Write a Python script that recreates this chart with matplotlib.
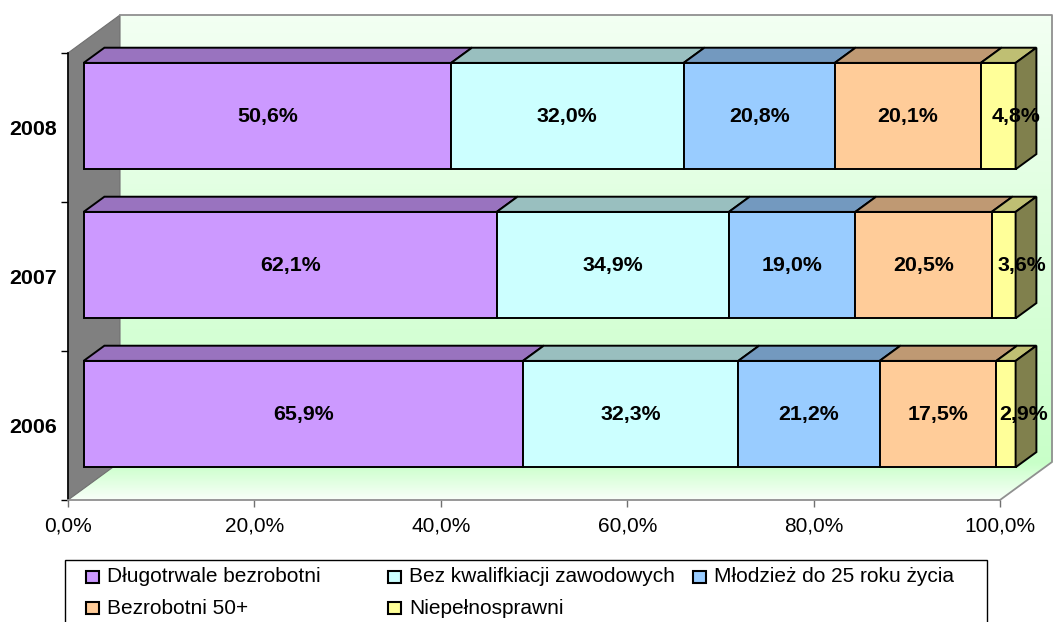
import matplotlib
matplotlib.use('Agg')
import matplotlib.pyplot as plt
import numpy as np
from matplotlib.patches import Polygon, Rectangle
from matplotlib.transforms import IdentityTransform, ScaledTranslation

plt.rcParams['font.family'] = ['Liberation Sans', 'DejaVu Sans']

# ---------------- data ----------------
years = ['2006', '2007', '2008']
series_names = ['Długotrwale bezrobotni', 'Bez kwalifkiacji zawodowych',
                'Młodzież do 25 roku życia', 'Bezrobotni 50+', 'Niepełnosprawni']
dlugotrwale = [65.9, 62.1, 50.6]
bez_kwalifikacji = [32.3, 34.9, 32.0]
mlodziez = [21.2, 19.0, 20.8]
bezrobotni_50 = [17.5, 20.5, 20.1]
niepelnosprawni = [2.9, 3.6, 4.8]
colors = ['#CC99FF', '#CCFFFF', '#99CCFF', '#FFCC99', '#FFFF99']
xticks = [0.0, 0.2, 0.4, 0.6, 0.8, 1.0]
xtick_labels = ['0,0%', '20,0%', '40,0%', '60,0%', '80,0%', '100,0%']

# ---------------- layout ----------------
W, H = 1053, 622
fig = plt.figure(figsize=(W / 100, H / 100), dpi=100)
ax = fig.add_axes([68 / W, (H - 500) / H, 932 / W, 447 / H])
ax.set_xlim(0, 1)
ax.set_ylim(-0.5, 2.5)
ax.patch.set_visible(False)

D = np.array([52.0, 38.0])   # depth vector in pixels
s_front, s_back = 0.3, 0.7
FS = 15.0
FSB = 15.4
ID = IdentityTransform()


def shade(c, f):
    rgb = np.array(matplotlib.colors.to_rgb(c))
    return tuple(rgb * f)


def axp(x, y, s=0.0):
    return ax.transAxes.transform((x, y)) + s * D


def dp(x, y, s=0.0):
    return ax.transData.transform((x, y)) + s * D


# back wall gradient
N = 80
c_top = np.array([242, 255, 242]) / 255
c_bot = np.array([200, 255, 200]) / 255
for k in range(N):
    y0, y1 = k / N, (k + 1) / N
    c = c_bot + (c_top - c_bot) * (k + 0.5) / N
    pts = [axp(0, y0, 1), axp(1, y0, 1), axp(1, y1, 1), axp(0, y1, 1)]
    ax.add_patch(Polygon(pts, closed=True, transform=ID, facecolor=c,
                         edgecolor=c, lw=0.5, clip_on=False, zorder=0.5))
# floor gradient
c_front = np.array([250, 255, 250]) / 255
c_back = np.array([200, 255, 200]) / 255
for k in range(N):
    s0, s1 = k / N, (k + 1) / N
    c = c_front + (c_back - c_front) * (k + 0.5) / N
    pts = [axp(0, 0, s0), axp(1, 0, s0), axp(1, 0, s1), axp(0, 0, s1)]
    ax.add_patch(Polygon(pts, closed=True, transform=ID, facecolor=c,
                         edgecolor=c, lw=0.5, clip_on=False, zorder=0.5))
# left wall
ax.add_patch(Polygon([axp(0, 0, 0), axp(0, 1, 0), axp(0, 1, 1), axp(0, 0, 1)],
                     closed=True, transform=ID, facecolor='#808080',
                     edgecolor='#707070', lw=0.8, clip_on=False, zorder=0.6))
# outlines
edge_pts = [axp(0, 1, 1), axp(1, 1, 1), axp(1, 0, 1), axp(1, 0, 0)]
ex = [p[0] for p in edge_pts]
ey = [p[1] for p in edge_pts]
ax.plot(ex, ey, transform=ID, color='#909090', lw=1.3, clip_on=False, zorder=0.7)

# ---------------- bars ----------------
data = np.array([dlugotrwale, bez_kwalifikacji, mlodziez, bezrobotni_50, niepelnosprawni])
totals = data.sum(axis=0)
frac = data / totals
h = 0.714
front_tr = ax.transData + ScaledTranslation(s_front * D[0] / 100, s_front * D[1] / 100,
                                            fig.dpi_scale_trans)
ypos = np.arange(len(years))
lefts = np.zeros(len(years))
for j in range(len(series_names)):
    ax.barh(ypos, frac[j], left=lefts, height=h, color=colors[j], edgecolor='black',
            lw=1.4, transform=front_tr, clip_on=False, zorder=2)
    for i in range(len(years)):
        x0, x1 = lefts[i], lefts[i] + frac[j, i]
        y0, y1 = i - h / 2, i + h / 2
        top = [dp(x0, y1, s_front), dp(x1, y1, s_front), dp(x1, y1, s_back), dp(x0, y1, s_back)]
        ax.add_patch(Polygon(top, closed=True, transform=ID, facecolor=shade(colors[j], 0.75),
                             edgecolor='black', lw=1.4, clip_on=False, zorder=2))
        if j == len(series_names) - 1:
            side = [dp(x1, y0, s_front), dp(x1, y0, s_back), dp(x1, y1, s_back), dp(x1, y1, s_front)]
            ax.add_patch(Polygon(side, closed=True, transform=ID, facecolor=shade(colors[j], 0.5),
                                 edgecolor='black', lw=1.4, clip_on=False, zorder=2))
        extra = 18 if j == len(series_names) - 1 else 0
        lab = ('%.1f%%' % data[j, i]).replace('.', ',')
        ax.annotate(lab, xy=((x0 + x1) / 2, i),
                    xytext=(s_front * D[0] + extra, s_front * D[1]),
                    textcoords='offset pixels', ha='center', va='center',
                    fontsize=FSB, fontweight='bold', zorder=5, annotation_clip=False)
    lefts = lefts + frac[j]

# ---------------- axes ----------------
for sp in ['top', 'right']:
    ax.spines[sp].set_visible(False)
ax.spines['left'].set_color('black')
ax.spines['left'].set_linewidth(1.2)
ax.spines['bottom'].set_color('#909090')
ax.spines['bottom'].set_linewidth(1.3)
ax.set_yticks(ypos)
ax.set_yticklabels(years, fontsize=FSB, fontweight='bold')
ax.set_yticks([-0.5, 0.5, 1.5, 2.5], minor=True)
ax.tick_params(axis='y', which='major', length=0, pad=7.6)
ax.tick_params(axis='y', which='minor', length=5, width=1, color='black', direction='out')
ax.set_xticks(xticks)
ax.set_xticklabels(xtick_labels, fontsize=FS)
ax.tick_params(axis='x', which='major', length=5, width=1, color='#707070', direction='out', pad=6.8)

# ---------------- legend (manual, Excel-like fixed columns) ----------------
fig.add_artist(Rectangle((65, -10), 922, H - 560 + 10, transform=ID, fill=False,
                         edgecolor='black', lw=1.0))
col_x = [86, 388, 693]
row_y = [577, 608]
order = [(0, 0), (0, 1), (0, 2), (1, 0), (1, 1)]
for j, (r, c) in enumerate(order):
    xm = col_x[c]
    ym = H - row_y[r]
    fig.add_artist(Rectangle((xm, ym - 6), 13, 12, transform=ID, facecolor=colors[j],
                             edgecolor='black', lw=1.5))
    fig.text((xm + 21) / W, ym / H, series_names[j], fontsize=FS, ha='left', va='center')

fig.savefig('out.png', dpi=100)
